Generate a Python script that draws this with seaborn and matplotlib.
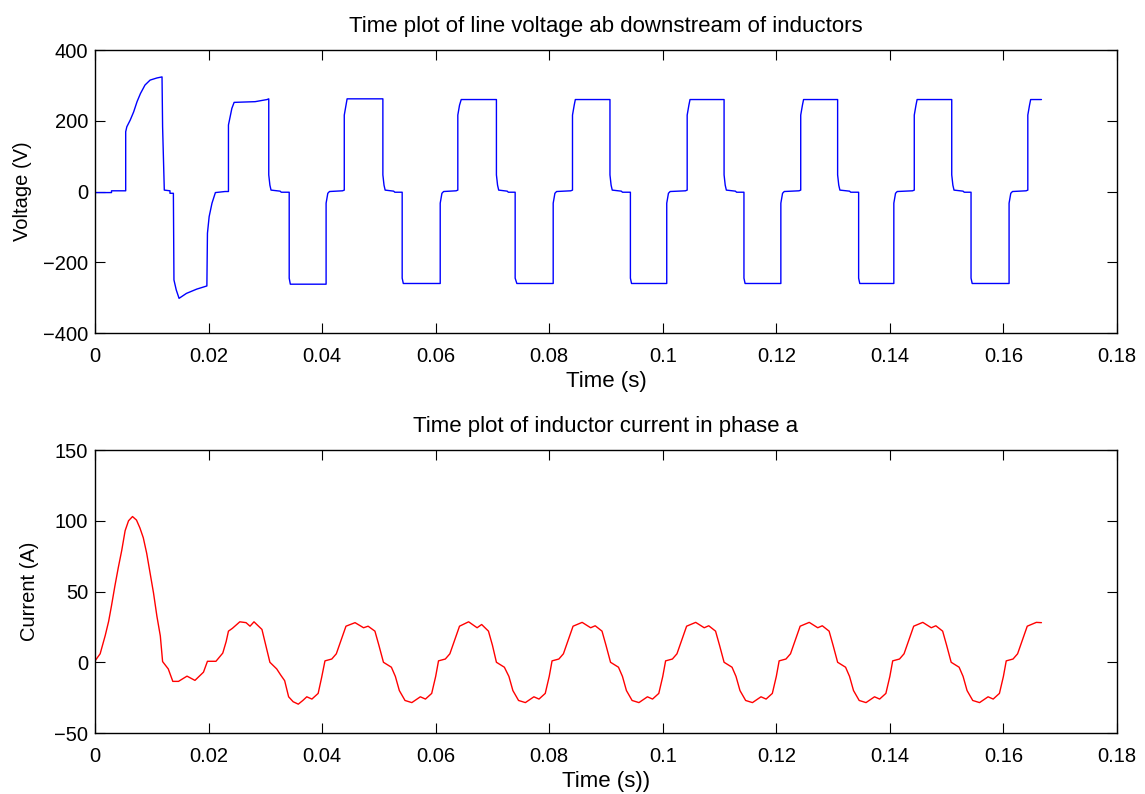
import matplotlib
matplotlib.use("Agg")
import matplotlib.pyplot as plt
import seaborn as sns
import pandas as pd

# ---- line voltage ab (V): vertices of the switched waveform ----
volt_t = [
    0.0, 0.0029, 0.0029, 0.0054, 0.0054, 0.0056, 0.0062, 0.0068, 0.0074, 0.0080,
    0.0088, 0.0097, 0.0109, 0.0118, 0.0119, 0.0122, 0.0132, 0.0132, 0.0138, 0.0139,
    0.0143, 0.0148, 0.0161, 0.0179, 0.0197, 0.0198, 0.0201, 0.0206, 0.0212, 0.0229,
    0.0235, 0.0235, 0.0241, 0.0245, 0.0282, 0.0303, 0.0306,
    # cycle 1
    0.0306, 0.0308, 0.0310, 0.0326, 0.0328, 0.0342, 0.0342, 0.0344, 0.0407, 0.0407,
    0.0410, 0.0413, 0.0436, 0.0439, 0.0439, 0.0442, 0.0444, 0.0507,
    # cycle 2
    0.0507, 0.0509, 0.0511, 0.0526, 0.0528, 0.0541, 0.0541, 0.0543, 0.0608, 0.0608,
    0.0611, 0.0614, 0.0636, 0.0639, 0.0639, 0.0642, 0.0645, 0.0707,
    # cycle 3
    0.0707, 0.0709, 0.0711, 0.0726, 0.0728, 0.0740, 0.0740, 0.0743, 0.0807, 0.0807,
    0.0810, 0.0813, 0.0838, 0.0841, 0.0841, 0.0844, 0.0846, 0.0907,
    # cycle 4
    0.0907, 0.0909, 0.0911, 0.0927, 0.0929, 0.0943, 0.0943, 0.0945, 0.1007, 0.1007,
    0.1010, 0.1013, 0.1040, 0.1043, 0.1043, 0.1046, 0.1048, 0.1108,
    # cycle 5
    0.1108, 0.1110, 0.1112, 0.1128, 0.1130, 0.1143, 0.1143, 0.1145, 0.1208, 0.1208,
    0.1211, 0.1214, 0.1240, 0.1243, 0.1243, 0.1246, 0.1248, 0.1308,
    # cycle 6
    0.1308, 0.1310, 0.1312, 0.1329, 0.1331, 0.1345, 0.1345, 0.1347, 0.1407, 0.1407,
    0.1410, 0.1413, 0.1440, 0.1443, 0.1443, 0.1446, 0.1448, 0.1509,
    # cycle 7
    0.1509, 0.1511, 0.1513, 0.1529, 0.1531, 0.1543, 0.1543, 0.1545, 0.1610, 0.1610,
    0.1613, 0.1616, 0.1640, 0.1643, 0.1643, 0.1646, 0.1648, 0.1667,
]
volt_v = [
    -3, -3, 2, 2, 169, 183, 202, 225, 254, 277,
    301, 315, 321, 324, 183, 4, 2, -5, -5, -250,
    -278, -302, -288, -276, -267, -118, -71, -33, -3, 0,
    0, 188, 235, 252, 254, 260, 262,
    47, 18, 4, 1, -2, -2, -245, -262, -262, -33,
    -5, 0, 2, 4, 216, 244, 262, 262,
    47, 18, 4, 1, -2, -2, -245, -260, -260, -33,
    -5, 0, 2, 4, 216, 244, 260, 260,
    47, 18, 4, 1, -2, -2, -245, -260, -260, -33,
    -5, 0, 2, 4, 216, 244, 260, 260,
    47, 18, 4, 1, -2, -2, -245, -260, -260, -33,
    -5, 0, 2, 4, 216, 244, 260, 260,
    47, 18, 4, 1, -2, -2, -245, -260, -260, -33,
    -5, 0, 2, 4, 216, 244, 260, 260,
    47, 18, 4, 1, -2, -2, -245, -260, -260, -33,
    -5, 0, 2, 4, 216, 244, 260, 260,
    47, 18, 4, 1, -2, -2, -245, -260, -260, -33,
    -5, 0, 2, 4, 216, 244, 260, 260,
]

# ---- inductor current in phase a (A) ----
curr_t = [
    0.0, 0.0009, 0.0018, 0.0024, 0.0029, 0.0035, 0.0041, 0.0047, 0.0053, 0.0059,
    0.0066, 0.0073, 0.0079, 0.0085, 0.0091, 0.0097, 0.0103, 0.0109, 0.0115, 0.0119,
    0.0129, 0.0137, 0.0147, 0.0162, 0.0176, 0.0191, 0.0198, 0.0213, 0.0225, 0.0231,
    0.0235, 0.0242, 0.0255, 0.0266, 0.0273, 0.0280, 0.0294, 0.0301, 0.0308, 0.0320,
    0.0327, 0.0334, 0.0341, 0.0349, 0.0358, 0.0366, 0.0373, 0.0382, 0.0393, 0.0399,
    # cycle 1
    0.0405, 0.0417, 0.0425, 0.0432, 0.0442, 0.0458, 0.0473, 0.0481, 0.0493, 0.0500,
    0.0508, 0.0522, 0.0529, 0.0536, 0.0546, 0.0558, 0.0573, 0.0582, 0.0593, 0.0600,
    # cycle 2
    0.0605, 0.0617, 0.0625, 0.0632, 0.0642, 0.0658, 0.0673, 0.0681, 0.0693, 0.0700,
    0.0707, 0.0721, 0.0729, 0.0736, 0.0746, 0.0758, 0.0773, 0.0782, 0.0793, 0.0800,
    # cycle 3
    0.0805, 0.0817, 0.0825, 0.0832, 0.0842, 0.0858, 0.0873, 0.0881, 0.0893, 0.0900,
    0.0908, 0.0922, 0.0929, 0.0936, 0.0946, 0.0958, 0.0973, 0.0982, 0.0993, 0.1000,
    # cycle 4
    0.1005, 0.1017, 0.1025, 0.1032, 0.1042, 0.1058, 0.1073, 0.1081, 0.1093, 0.1100,
    0.1108, 0.1122, 0.1129, 0.1136, 0.1146, 0.1158, 0.1173, 0.1182, 0.1193, 0.1200,
    # cycle 5
    0.1205, 0.1217, 0.1225, 0.1232, 0.1242, 0.1258, 0.1273, 0.1281, 0.1293, 0.1300,
    0.1308, 0.1322, 0.1329, 0.1336, 0.1346, 0.1358, 0.1373, 0.1382, 0.1393, 0.1400,
    # cycle 6
    0.1405, 0.1417, 0.1425, 0.1432, 0.1442, 0.1458, 0.1473, 0.1481, 0.1493, 0.1500,
    0.1508, 0.1522, 0.1529, 0.1536, 0.1546, 0.1558, 0.1573, 0.1582, 0.1593, 0.1600,
    # cycle 7 (partial)
    0.1605, 0.1617, 0.1625, 0.1632, 0.1642, 0.1658, 0.1667,
]
curr_v = [
    1, 6, 19, 29, 40, 54, 67, 79, 93, 100,
    103, 100.5, 95, 88, 77, 63, 49, 32.5, 18.6, 0.5,
    -4.7, -13.5, -13.5, -9.8, -12.8, -7, 0.7, 0.7, 6.5, 14.7,
    22, 24, 28.6, 28, 25.5, 28.6, 23.2, 11.6, 0, -4.7,
    -9, -13, -24.4, -27.9, -29.6, -27, -24.4, -26, -22, -11,
    1, 2.3, 6, 14, 25.5, 28, 24.4, 25.5, 22, 12,
    0, -3.5, -10, -20, -27, -28.5, -24.4, -26, -22, -10,
    1, 2.3, 6, 14, 25.5, 28.6, 24.4, 26.7, 22, 12,
    0, -3.5, -10, -20, -27, -28.5, -24.4, -26, -22, -10,
    1, 2.3, 6, 14, 25.5, 28.2, 24.4, 25.8, 22, 12,
    0, -3.5, -10, -20, -27, -28.5, -24.4, -26, -22, -10,
    1, 2.3, 6, 14, 25.5, 28.2, 24.4, 25.8, 22, 12,
    0, -3.5, -10, -20, -27, -28.5, -24.4, -26, -22, -10,
    1, 2.3, 6, 14, 25.5, 28.2, 24.4, 25.8, 22, 12,
    0, -3.5, -10, -20, -27, -28.5, -24.4, -26, -22, -10,
    1, 2.3, 6, 14, 25.5, 28.2, 24.4, 25.8, 22, 12,
    0, -3.5, -10, -20, -27, -28.5, -24.4, -26, -22, -10,
    1, 2.3, 6, 14, 25.5, 28.2, 28,
]

x_ticks = [0, 0.02, 0.04, 0.06, 0.08, 0.1, 0.12, 0.14, 0.16, 0.18]
x_tick_labels = ["0", "0.02", "0.04", "0.06", "0.08", "0.1", "0.12", "0.14", "0.16", "0.18"]
v_ticks = [-400, -200, 0, 200, 400]
i_ticks = [-50, 0, 50, 100, 150]

sns.set_theme(style="ticks")
plt.rcParams["font.family"] = ["Liberation Sans", "DejaVu Sans"]
plt.rcParams["axes.unicode_minus"] = True
for key in ("text.color", "axes.labelcolor", "xtick.color", "ytick.color",
            "axes.edgecolor", "axes.titlecolor"):
    plt.rcParams[key] = "black"

fig = plt.figure(figsize=(11.45, 7.94), dpi=100)
ax1 = fig.add_axes([0.083, 0.5806, 0.8925, 0.3564])
ax2 = fig.add_axes([0.083, 0.0768, 0.8925, 0.3564])

df_v = pd.DataFrame({"t": volt_t, "v": volt_v})
df_i = pd.DataFrame({"t": curr_t, "i": curr_v})

sns.lineplot(data=df_v, x="t", y="v", ax=ax1, color="#0000ff", linewidth=1.0,
             sort=False, estimator=None)
sns.lineplot(data=df_i, x="t", y="i", ax=ax2, color="#ff0000", linewidth=1.0,
             sort=False, estimator=None)


def style_axes(ax, yticks, ylim, title, xlabel, ylabel, ylabelpad):
    ax.set_xlim(0, 0.18)
    ax.set_ylim(*ylim)
    ax.set_xticks(x_ticks)
    ax.set_xticklabels(x_tick_labels)
    ax.set_yticks(yticks)
    ax.set_yticklabels([str(y).replace("-", "\u2212") for y in yticks])
    ax.tick_params(direction="in", length=7, width=0.8, labelsize=14.5,
                   top=True, right=True, colors="black")
    ax.tick_params(axis="x", pad=10)
    ax.tick_params(axis="y", pad=5)
    for s in ax.spines.values():
        s.set_visible(True)
        s.set_linewidth(1.0)
        s.set_color("black")
    ax.set_title(title, fontsize=16, pad=13, color="black")
    ax.set_xlabel(xlabel, fontsize=16, labelpad=4, color="black")
    ax.set_ylabel(ylabel, fontsize=14.5, labelpad=ylabelpad, color="black")


style_axes(ax1, v_ticks, (-400, 400),
           "Time plot of line voltage ab downstream of inductors",
           "Time (s)", "Voltage (V)", 8)
style_axes(ax2, i_ticks, (-50, 150),
           "Time plot of inductor current in phase a",
           "Time (s))", "Current (A)", 11)

fig.savefig("out.png", dpi=100, facecolor="white")
